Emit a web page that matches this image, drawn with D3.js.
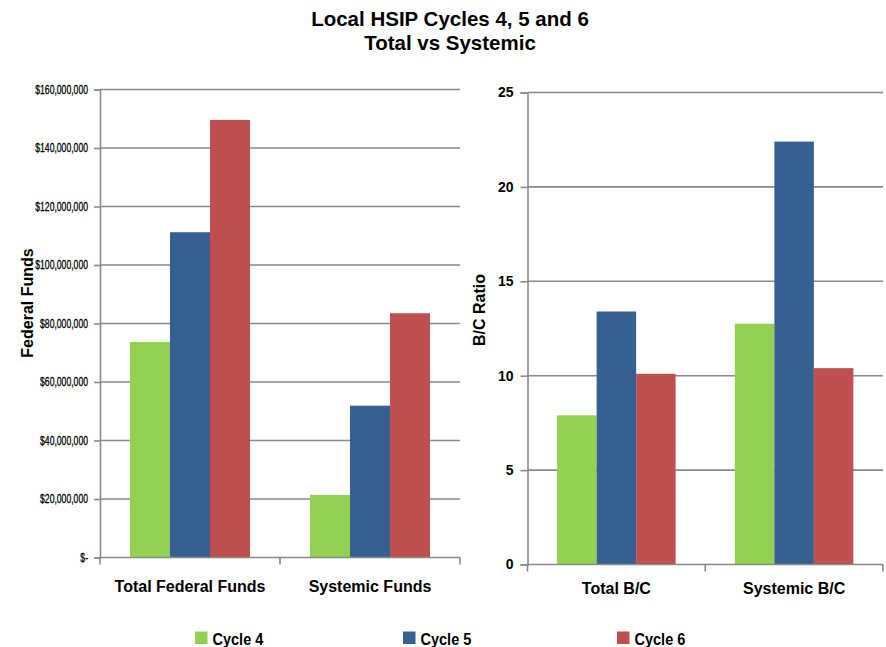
<!DOCTYPE html>
<html>
<head>
<meta charset="utf-8">
<script src="https://cdn.jsdelivr.net/npm/d3@7"></script>
<style>
  body { margin: 0; background: #fff; }
  svg { display: block; }
  .title { font-family: "Liberation Sans", Arial, sans-serif; font-weight: bold; font-size: 20.5px; fill: #000; }
  .axis-title { font-family: "Liberation Sans", Arial, sans-serif; font-weight: bold; font-size: 16px; fill: #000; }
  .cat-label { font-family: "Liberation Sans", Arial, sans-serif; font-weight: bold; font-size: 16px; fill: #000; }
  .money-tick { font-family: "Liberation Sans", Arial, sans-serif; font-size: 12px; fill: #000; stroke: #000; stroke-width: 0.3px; }
  .ratio-tick { font-family: "Liberation Sans", Arial, sans-serif; font-weight: bold; font-size: 14px; fill: #000; }
  .legend-text { font-family: "Liberation Sans", Arial, sans-serif; font-weight: bold; font-size: 16.5px; fill: #000; }
</style>
</head>
<body>
<script>
// Series (cycles) and their colours
const seriesNames = ["Cycle 4", "Cycle 5", "Cycle 6"];
const seriesColors = ["#92D050", "#376092", "#C0504D"];

// Left panel: federal funds by category
const fundCategories = ["Total Federal Funds", "Systemic Funds"];
const fundsCycle4 = [73700000, 21400000];
const fundsCycle5 = [111200000, 51900000];
const fundsCycle6 = [149600000, 83500000];
const fundTicks = [0, 20000000, 40000000, 60000000, 80000000, 100000000, 120000000, 140000000, 160000000];

// Right panel: benefit/cost ratio by category
const ratioCategories = ["Total B/C", "Systemic B/C"];
const ratioCycle4 = [7.9, 12.75];
const ratioCycle5 = [13.4, 22.4];
const ratioCycle6 = [10.1, 10.4];
const ratioTicks = [0, 5, 10, 15, 20, 25];

const W = 886, H = 647;
const gridColor = "#898989";

const svg = d3.select("body").append("svg").attr("width", W).attr("height", H);

// Title
svg.append("text").attr("class", "title").attr("x", 450).attr("y", 26)
  .attr("text-anchor", "middle").text("Local HSIP Cycles 4, 5 and 6");
svg.append("text").attr("class", "title").attr("x", 450).attr("y", 50)
  .attr("text-anchor", "middle").text("Total vs Systemic");

function drawPanel(opts) {
  const { x0, x1, yTop, yBottom, categories, series, ticks, maxVal, tickFormat, tickClass,
          tickScaleX, tickGap, tickLen, labelDy, yTitle, yTitleX, yTitleY } = opts;

  const y = d3.scaleLinear().domain([0, maxVal]).range([yBottom, yTop]);
  const xOuter = d3.scaleBand().domain(categories).range([x0, x1]).padding(0);
  const bw = xOuter.bandwidth();
  const xInner = d3.scaleBand().domain(seriesNames).range([bw / 6, bw * 5 / 6]).padding(0);

  const g = svg.append("g");

  // Horizontal gridlines
  g.append("g").selectAll("line").data(ticks.filter(t => t > 0)).join("line")
    .attr("x1", x0).attr("x2", x1)
    .attr("y1", d => y(d)).attr("y2", d => y(d))
    .attr("stroke", gridColor).attr("stroke-width", 1.6);

  // Bars
  seriesNames.forEach((s, si) => {
    g.append("g").selectAll("rect").data(categories).join("rect")
      .attr("x", c => xOuter(c) + xInner(s))
      .attr("width", xInner.bandwidth())
      .attr("y", (c, ci) => y(series[si][ci]))
      .attr("height", (c, ci) => yBottom - y(series[si][ci]))
      .attr("fill", seriesColors[si]);
  });

  // Y axis
  const yAxis = d3.axisLeft(y).tickValues(ticks).tickSize(tickLen).tickPadding(tickGap - tickLen)
    .tickFormat(tickFormat);
  const ya = g.append("g").attr("transform", `translate(${x0},0)`).call(yAxis);
  ya.select(".domain").attr("stroke", gridColor).attr("stroke-width", 1.6);
  ya.selectAll(".tick line").attr("stroke", gridColor).attr("stroke-width", 1.6);
  ya.selectAll(".tick text").attr("class", tickClass).attr("font-family", null).attr("font-size", null)
    .attr("fill", null);
  if (tickScaleX !== 1) {
    ya.selectAll(".tick text").attr("transform", `scale(${tickScaleX},1)`)
      .attr("x", -tickGap / tickScaleX);
  }

  // X axis baseline with category separators
  const xa = g.append("g");
  xa.append("line").attr("x1", x0).attr("x2", x1).attr("y1", yBottom).attr("y2", yBottom)
    .attr("stroke", gridColor).attr("stroke-width", 1.6);
  const seps = categories.map(c => xOuter(c)).concat([x1]);
  xa.selectAll("line.sep").data(seps).join("line").attr("class", "sep")
    .attr("x1", d => d).attr("x2", d => d).attr("y1", yBottom).attr("y2", yBottom + 7)
    .attr("stroke", gridColor).attr("stroke-width", 1.6);
  xa.selectAll("text").data(categories).join("text").attr("class", "cat-label")
    .attr("x", c => xOuter(c) + bw / 2).attr("y", yBottom + labelDy)
    .attr("text-anchor", "middle").text(c => c);

  // Y axis title
  svg.append("text").attr("class", "axis-title")
    .attr("transform", `translate(${yTitleX},${yTitleY}) rotate(-90)`)
    .attr("text-anchor", "middle").text(yTitle);
}

const moneyFmt = v => v === 0 ? "$-" : "$" + d3.format(",")(v);

drawPanel({
  x0: 100, x1: 460, yTop: 89.5, yBottom: 557.5,
  categories: fundCategories, series: [fundsCycle4, fundsCycle5, fundsCycle6],
  ticks: fundTicks, maxVal: 160000000, tickFormat: moneyFmt, tickClass: "money-tick",
  tickScaleX: 0.72, tickGap: 12, tickLen: 6, labelDy: 34.5,
  yTitle: "Federal Funds", yTitleX: 33, yTitleY: 303
});

drawPanel({
  x0: 527.5, x1: 883, yTop: 92.5, yBottom: 564.5,
  categories: ratioCategories, series: [ratioCycle4, ratioCycle5, ratioCycle6],
  ticks: ratioTicks, maxVal: 25, tickFormat: d3.format("d"), tickClass: "ratio-tick",
  tickScaleX: 1, tickGap: 14, tickLen: 7, labelDy: 29,
  yTitle: "B/C Ratio", yTitleX: 485, yTitleY: 310
});

// Legend
const legendX = [195, 403, 617];
const legend = svg.append("g");
seriesNames.forEach((s, i) => {
  legend.append("rect").attr("x", legendX[i]).attr("y", 631.5).attr("width", 12.5).attr("height", 12.5)
    .attr("fill", seriesColors[i]);
  legend.append("g").attr("transform", `translate(${legendX[i] + 17.5},644.5) scale(0.88,1)`)
    .append("text").attr("class", "legend-text").attr("x", 0).attr("y", 0).text(s);
});
</script>
</body>
</html>
